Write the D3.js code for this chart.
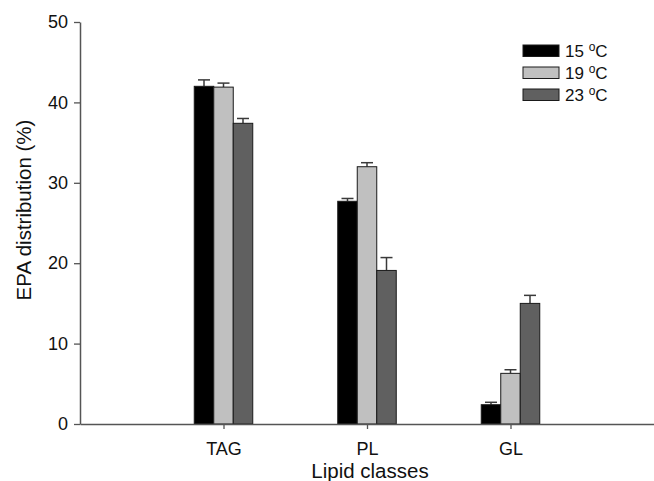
<!DOCTYPE html>
<html>
<head>
<meta charset="utf-8">
<script src="https://cdn.jsdelivr.net/npm/d3@7"></script>
<style>
  html, body { margin: 0; padding: 0; background: #fff; overflow: hidden; }
  svg { display: block; font-family: "Liberation Sans", Arial, sans-serif; }
</style>
</head>
<body>
<svg id="chart"></svg>
<script>
const categories = ['TAG', 'PL', 'GL'];
const series = ['15', '19', '23'];
const colors = ['#000000', '#c0c0c0', '#606060'];
const values15 = [42.0, 27.7, 2.4];
const values19 = [41.9, 32.0, 6.3];
const values23 = [37.4, 19.1, 15.0];
const err15 = [0.8, 0.35, 0.3];
const err19 = [0.5, 0.5, 0.45];
const err23 = [0.6, 1.6, 1.0];
const yTicks = [0, 10, 20, 30, 40, 50];

const W = 654, H = 481;
const margin = {top: 22, bottom: 57, left: 80, right: 0};

const svg = d3.select('#chart')
  .attr('width', W)
  .attr('height', H);

const x = d3.scaleLinear()
  .domain([0, categories.length + 1])
  .range([margin.left, W - margin.right]);

const y = d3.scaleLinear()
  .domain([0, 50])
  .range([H - margin.bottom, margin.top]);

const barW = 19.5;
const vals = [values15, values19, values23];
const errs = [err15, err19, err23];

// one record per bar
const bars = [];
categories.forEach((c, i) => {
  series.forEach((s, j) => {
    bars.push({cat: i, s: j, v: vals[j][i], e: errs[j][i]});
  });
});

// error bars, upper half only
const eb = svg.append('g').attr('stroke', '#3a3a3a').attr('stroke-width', 1.5);
bars.forEach(d => {
  const cx = x(d.cat + 1) + (d.s - 1) * barW;
  eb.append('line')
    .attr('x1', cx).attr('x2', cx)
    .attr('y1', y(d.v)).attr('y2', y(d.v + d.e));
  eb.append('line')
    .attr('x1', cx - 6).attr('x2', cx + 6)
    .attr('y1', y(d.v + d.e)).attr('y2', y(d.v + d.e));
});

svg.append('g')
  .selectAll('rect')
  .data(bars)
  .enter()
  .append('rect')
  .attr('x', d => x(d.cat + 1) + (d.s - 1.5) * barW)
  .attr('y', d => y(d.v))
  .attr('width', barW)
  .attr('height', d => y(0) - y(d.v))
  .attr('fill', d => colors[d.s])
  .attr('stroke', '#1a1a1a')
  .attr('stroke-width', 1);

// axes
const yAxis = svg.append('g')
  .attr('transform', `translate(${margin.left},0)`)
  .call(d3.axisLeft(y).tickValues(yTicks).tickSize(6).tickSizeOuter(0).tickPadding(6));

const xAxis = svg.append('g')
  .attr('transform', `translate(0,${y(0)})`)
  .call(d3.axisBottom(x)
    .tickValues(categories.map((c, i) => i + 1))
    .tickFormat((d, i) => categories[i])
    .tickSize(5).tickSizeOuter(0).tickPadding(13));

[yAxis, xAxis].forEach(a => {
  a.select('.domain').attr('stroke', '#555').attr('stroke-width', 1.5);
  a.selectAll('.tick line').attr('stroke', '#555').attr('stroke-width', 1.3);
  a.selectAll('text').attr('fill', '#111').style('font-size', '18px')
    .style('font-family', '"Liberation Sans", Arial, sans-serif');
});

svg.append('text')
  .attr('transform', 'rotate(-90)')
  .attr('x', -210)
  .attr('y', 31)
  .attr('text-anchor', 'middle')
  .style('font-size', '20.5px')
  .attr('fill', '#111')
  .text('EPA distribution (%)');

svg.append('text')
  .attr('x', 370)
  .attr('y', 478)
  .attr('text-anchor', 'middle')
  .style('font-size', '20.5px')
  .attr('fill', '#111')
  .text('Lipid classes');

// legend
const legend = svg.append('g').attr('transform', 'translate(523,45)');
series.forEach((s, j) => {
  const g = legend.append('g').attr('transform', `translate(0,${j * 22})`);
  g.append('rect')
    .attr('width', 36).attr('height', 11.5)
    .attr('fill', colors[j])
    .attr('stroke', '#1a1a1a').attr('stroke-width', 1);
  const t = g.append('text')
    .attr('x', 42).attr('y', 12)
    .style('font-size', '17px')
    .attr('fill', '#111');
  t.append('tspan').text(s + ' ');
  t.append('tspan').attr('dy', -6).style('font-size', '12px').text('o');
  t.append('tspan').attr('dy', 6).text('C');
});
</script>
</body>
</html>
